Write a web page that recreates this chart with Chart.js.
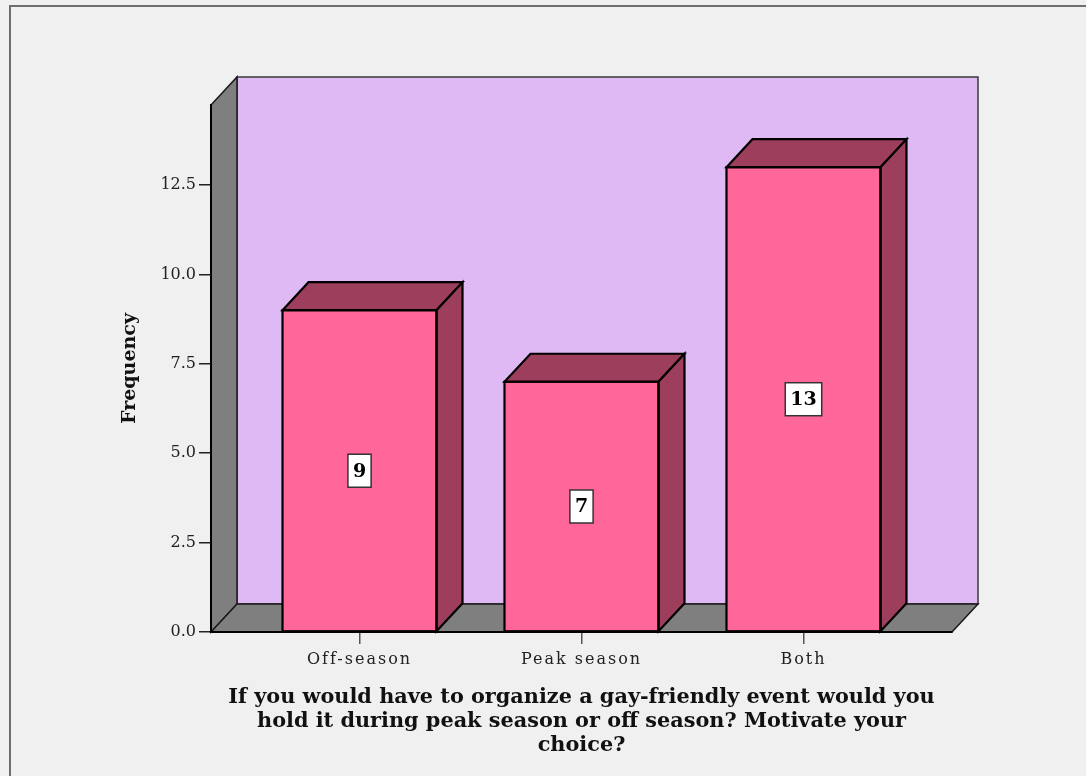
<!DOCTYPE html>
<html>
<head>
<meta charset="utf-8">
<script src="https://cdn.jsdelivr.net/npm/chart.js@4/dist/chart.umd.min.js"></script>
<style>
  html, body { margin: 0; padding: 0; background: #F0F0F0; }
  #wrap { width: 1086px; height: 776px; }
</style>
</head>
<body>
<div id="wrap"><canvas id="c" width="1086" height="776"></canvas></div>
<script>
// ---- data ----
const categories = ['Off-season', 'Peak season', 'Both'];
const frequencies = [9, 7, 13];
const yTickValues = [0, 2.5, 5, 7.5, 10, 12.5];
const yAxisTitle = 'Frequency';
const xAxisTitle = [
  'If you would have to organize a gay-friendly event would you',
  'hold it during peak season or off season? Motivate your',
  'choice?'
];

// ---- styles ----
const DEPTH_X = 26, DEPTH_Y = -28;
const COL_WALL = '#DFB9F3';
const COL_SIDEWALL = '#7F7F7F';
const COL_BAR = '#FF6699';
const COL_BAR_DARK = '#9D3E5D';
const SERIF = '"DejaVu Serif", "Liberation Serif", serif';

const threeD = {
  id: 'threeD',
  afterLayout(chart) {
    const s = chart.scales.x;
    if (s && !s._lsPatched) {
      s._lsPatched = true;
      s.drawLabels = function (area) {
        const c = this.ctx;
        c.save();
        c.letterSpacing = '2px';
        Object.getPrototypeOf(this).drawLabels.call(this, area);
        c.restore();
      };
    }
  },
  beforeDraw(chart) {
    const {ctx, chartArea: a} = chart;
    ctx.save();
    ctx.fillStyle = '#F0F0F0';
    ctx.fillRect(0, 0, chart.width, chart.height);
    // outer frame
    ctx.strokeStyle = '#6e6e6e';
    ctx.lineWidth = 2;
    ctx.strokeRect(10, 6, 1200, 900);
    const L = a.left, R = a.right, T = a.top, B = a.bottom;
    const dx = DEPTH_X, dy = DEPTH_Y;
    ctx.lineJoin = 'miter';
    // back wall
    ctx.fillStyle = COL_WALL;
    ctx.fillRect(L + dx, T + dy, R - L, B - T);
    ctx.strokeStyle = '#3a3a3a';
    ctx.lineWidth = 1.5;
    ctx.strokeRect(L + dx, T + dy, R - L, B - T);
    // left wall
    ctx.beginPath();
    ctx.moveTo(L, T); ctx.lineTo(L + dx, T + dy); ctx.lineTo(L + dx, B + dy); ctx.lineTo(L, B);
    ctx.closePath();
    ctx.fillStyle = COL_SIDEWALL; ctx.fill();
    ctx.strokeStyle = '#1a1a1a'; ctx.lineWidth = 1.5; ctx.stroke();
    // floor
    ctx.beginPath();
    ctx.moveTo(L, B); ctx.lineTo(L + dx, B + dy); ctx.lineTo(R + dx, B + dy); ctx.lineTo(R, B);
    ctx.closePath();
    ctx.fillStyle = COL_SIDEWALL; ctx.fill();
    ctx.strokeStyle = '#1a1a1a'; ctx.lineWidth = 1.5; ctx.stroke();
    ctx.restore();
  },
  afterDatasetsDraw(chart) {
    const {ctx} = chart;
    const meta = chart.getDatasetMeta(0);
    const dx = DEPTH_X, dy = DEPTH_Y;
    ctx.save();
    ctx.lineJoin = 'miter';
    meta.data.forEach((bar, i) => {
      const p = bar.getProps(['x', 'y', 'base', 'width'], true);
      const l = p.x - p.width / 2, r = p.x + p.width / 2, t = p.y, b = p.base;
      ctx.lineWidth = 2.2;
      ctx.strokeStyle = '#000';
      ctx.fillStyle = COL_BAR_DARK;
      // top face
      ctx.beginPath();
      ctx.moveTo(l, t); ctx.lineTo(l + dx, t + dy); ctx.lineTo(r + dx, t + dy); ctx.lineTo(r, t);
      ctx.closePath(); ctx.fill(); ctx.stroke();
      // side face
      ctx.beginPath();
      ctx.moveTo(r, t); ctx.lineTo(r + dx, t + dy); ctx.lineTo(r + dx, b + dy); ctx.lineTo(r, b);
      ctx.closePath(); ctx.fill(); ctx.stroke();
      // front outline
      ctx.strokeRect(l, t, r - l, b - t);
      // value label
      const txt = String(frequencies[i]);
      ctx.font = 'bold 19px ' + SERIF;
      const w = ctx.measureText(txt).width;
      const bw = w + 10, bh = 33;
      const cy = (t + b) / 2;
      ctx.fillStyle = '#FFFFFF';
      ctx.fillRect(p.x - bw / 2, cy - bh / 2, bw, bh);
      ctx.lineWidth = 1.5;
      ctx.strokeStyle = '#333';
      ctx.strokeRect(p.x - bw / 2, cy - bh / 2, bw, bh);
      ctx.fillStyle = '#000';
      ctx.textAlign = 'center';
      ctx.textBaseline = 'middle';
      ctx.fillText(txt, p.x, cy + 1);
    });
    ctx.restore();
  }
};

new Chart(document.getElementById('c'), {
  type: 'bar',
  data: {
    datasets: [{
      data: categories.map((c, i) => ({x: i, y: frequencies[i]})),
      backgroundColor: COL_BAR,
      borderColor: '#000',
      borderWidth: 0,
      borderSkipped: false,
      barThickness: 154
    }]
  },
  options: {
    responsive: false,
    animation: false,
    devicePixelRatio: 1,
    layout: { padding: { left: 100, right: 134, top: 105, bottom: 18 } },
    plugins: { legend: { display: false }, tooltip: { enabled: false }, title: { display: false } },
    scales: {
      x: {
        type: 'linear',
        offset: false,
        min: -0.669,
        max: 2.669,
        afterBuildTicks: s => { s.ticks = categories.map((c, i) => ({value: i})); },
        afterFit: s => { s.height = 126; },
        ticks: {
          autoSkip: false, maxRotation: 0, padding: 6,
          color: '#222',
          font: { family: SERIF, size: 16 },
          callback: (v) => categories[v]
        },
        grid: { offset: false, drawOnChartArea: false, drawTicks: true, tickLength: 12, color: '#555', lineWidth: 1.5 },
        border: { display: true, color: '#000', width: 2 },
        title: {
          display: true, text: xAxisTitle, color: '#111',
          font: { family: SERIF, size: 20.8, weight: 'bold', lineHeight: 1.17 },
          padding: { top: 0, bottom: 0 }
        }
      },
      y: {
        min: 0,
        max: 14.74,
        afterBuildTicks: s => { s.ticks = yTickValues.map(v => ({value: v})); },
        afterFit: s => { s.width = 111; },
        ticks: {
          padding: 3, color: '#222',
          font: { family: SERIF, size: 16 },
          callback: v => v.toFixed(1)
        },
        grid: { drawOnChartArea: false, drawTicks: true, tickLength: 12, color: '#222', lineWidth: 1.5 },
        border: { display: true, color: '#000', width: 2 },
        title: {
          display: true, text: yAxisTitle, color: '#111',
          font: { family: SERIF, size: 19, weight: 'bold' },
          padding: { top: 19, bottom: 0 }
        }
      }
    }
  },
  plugins: [threeD]
});
</script>
</body>
</html>
